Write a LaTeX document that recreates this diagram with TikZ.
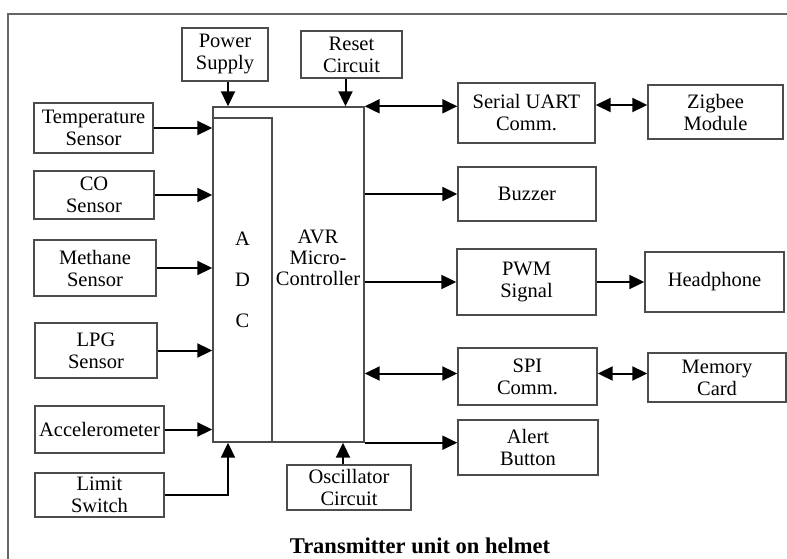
\documentclass[tikz,border=0pt]{standalone}
\usepackage{fontspec}
\setmainfont{Liberation Serif}
\usetikzlibrary{arrows.meta}

\begin{document}
\begin{tikzpicture}[x=1pt, y=-1pt,
          box/.style={draw=black!70, line width=1.4pt, align=center, inner sep=0pt, font=\fontsize{20.5}{22}\selectfont},
          arr/.style={-{Triangle[length=15pt,width=14pt]}, line width=2pt},
          biarr/.style={{Triangle[length=15pt,width=14pt]}-{Triangle[length=15pt,width=14pt]}, line width=2pt}
        ]
          \useasboundingbox (0,0) rectangle (787,559);
          \draw[black!60, line width=1.4pt] (8,559) -- (8,14) -- (787,14);

          \node[box, minimum width=151pt, minimum height=335pt] (mcu) at (288.5,274.5) {};
          \node[box, minimum width=59pt, minimum height=324pt] (adc) at (242.5,280) {A\\[19pt]D\\[19pt]C};
          \node[font=\fontsize{20.5}{21}\selectfont, align=center] (mcutext) at (318,258) {AVR\\Micro-\\Controller};

          \node[box, minimum width=119pt, minimum height=50pt] (temp) at (93.5,128) {Temperature\\Sensor};
          \node[box, minimum width=120pt, minimum height=48pt] (co) at (94,195) {CO\\Sensor};
          \node[box, minimum width=122pt, minimum height=56pt] (meth) at (95,268) {Methane\\Sensor};
          \node[box, minimum width=122pt, minimum height=55pt] (lpg) at (96,350.5) {LPG\\Sensor};
          \node[box, minimum width=129pt, minimum height=47pt] (accel) at (99.5,429.5) {Accelerometer};
          \node[box, minimum width=129pt, minimum height=44pt] (limit) at (99.5,495) {Limit\\Switch};

          \node[box, minimum width=86pt, minimum height=53pt] (power) at (225,54.5) {Power\\Supply};
          \node[box, minimum width=101pt, minimum height=47pt] (reset) at (351.5,54.5) {Reset\\Circuit};
          \node[box, minimum width=124pt, minimum height=45pt] (osc) at (349,487.5) {Oscillator\\Circuit};

          \node[box, minimum width=137pt, minimum height=60pt] (uart) at (526.5,113) {Serial UART\\Comm.};
          \node[box, minimum width=135pt, minimum height=54pt] (zigbee) at (715.5,112) {Zigbee\\Module};
          \node[box, minimum width=138pt, minimum height=54pt] (buzzer) at (527,194) {Buzzer};
          \node[box, minimum width=139pt, minimum height=66pt] (pwm) at (526.5,282) {PWM\\Signal};
          \node[box, minimum width=139pt, minimum height=60pt] (phone) at (714.5,282) {Headphone};
          \node[box, minimum width=139pt, minimum height=57pt] (spi) at (527.5,376.5) {SPI\\Comm.};
          \node[box, minimum width=138pt, minimum height=49pt] (memory) at (717,377.5) {Memory\\Card};
          \node[box, minimum width=140pt, minimum height=55pt] (alert) at (528,447.5) {Alert\\Button};

          \node[font=\fontsize{22.5}{24}\selectfont\bfseries] (title) at (420,546) {Transmitter unit on helmet};

          % sensors into the ADC
          \draw[arr] (temp.east) -- (temp.east -| mcu.west);
          \draw[arr] (co.east) -- (co.east -| mcu.west);
          \draw[arr] (meth.east) -- (meth.east -| mcu.west);
          \draw[arr] (lpg.east) -- (lpg.east -| mcu.west);
          \draw[arr] (accel.east) -- (accel.east -| mcu.west);
          \draw[arr] (limit.east) -| ([xshift=3pt]power.south |- mcu.south);

          % supply, reset, clock
          \draw[arr] ([xshift=3pt]power.south) -- ([xshift=3pt]power.south |- mcu.north);
          \draw[arr] ([xshift=-6pt]reset.south) -- ([xshift=-6pt]reset.south |- mcu.north);
          \draw[arr] ([xshift=-6pt]osc.north) -- ([xshift=-6pt]osc.north |- mcu.south);

          % outputs
          \draw[biarr] (mcu.north east) -- (mcu.north east -| uart.west);
          \draw[biarr] ([yshift=8pt]uart.east) -- ([yshift=8pt]uart.east -| zigbee.west);
          \draw[arr] (mcu.east |- buzzer.west) -- (buzzer.west);
          \draw[arr] (mcu.east |- pwm.west) -- (pwm.west);
          \draw[arr] (pwm.east) -- (phone.west);
          \draw[biarr] ([yshift=3pt]mcu.east |- spi.west) -- ([yshift=3pt]spi.west);
          \draw[biarr] ([yshift=3pt]spi.east) -- ([yshift=3pt]spi.east -| memory.west);
          \draw[arr] (mcu.south east) -- (mcu.south east -| alert.west);
        \end{tikzpicture}
\end{document}
